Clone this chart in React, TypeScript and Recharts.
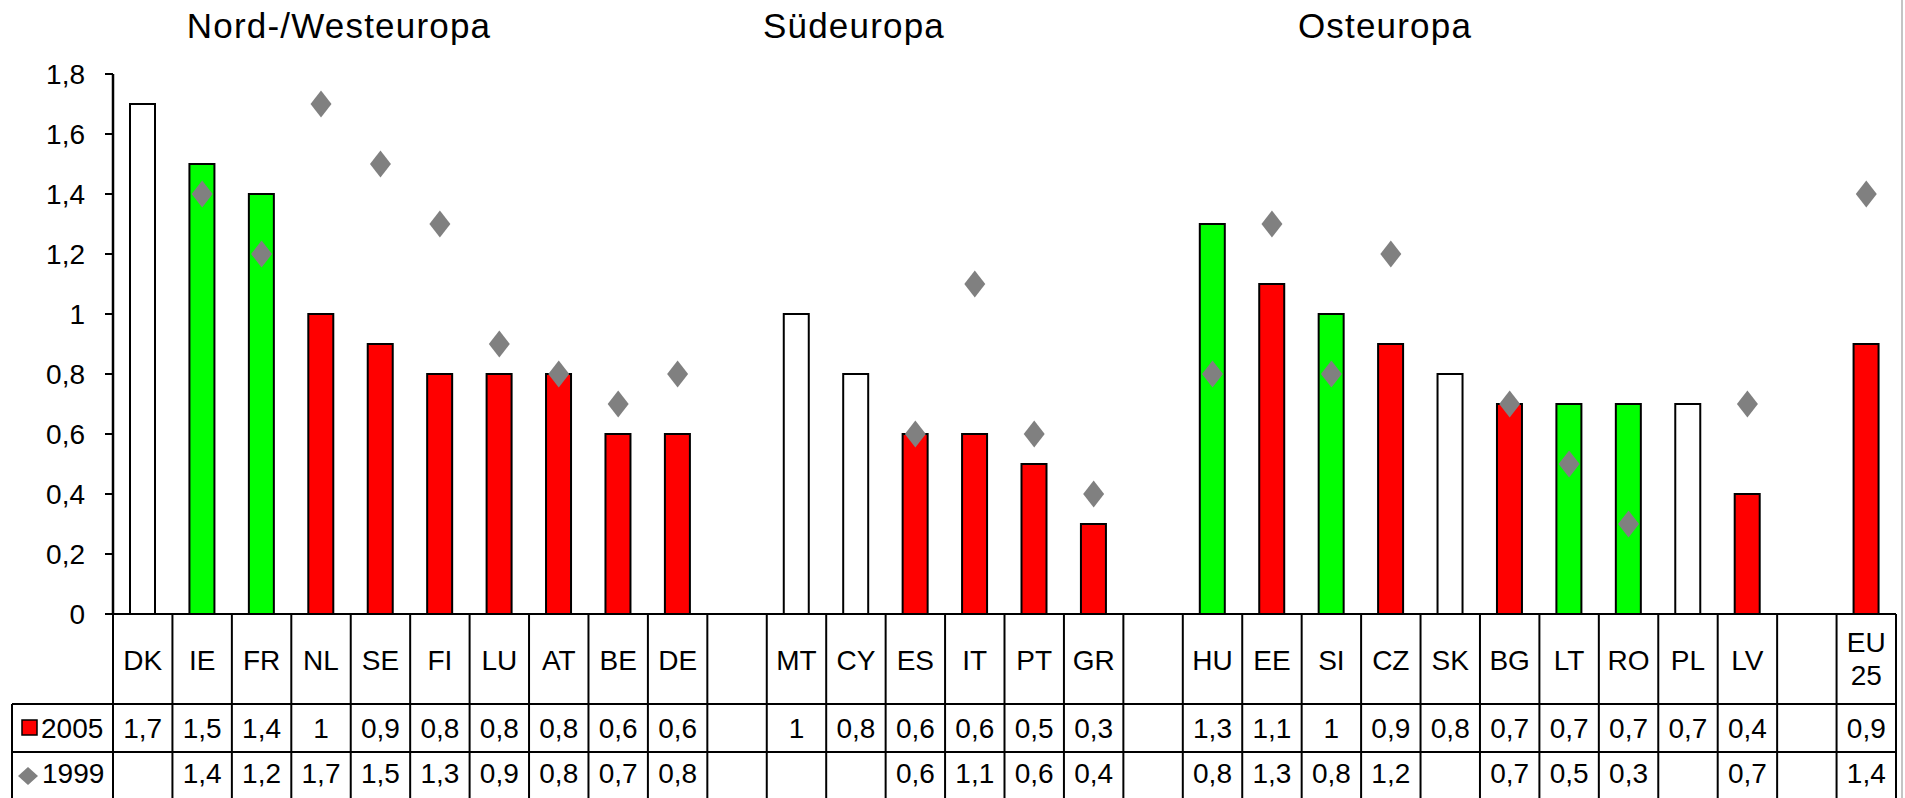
import { Bar, Cell, ComposedChart, Scatter, XAxis, YAxis } from 'recharts';

document.body.style.margin = '0';

// '' = empty spacer column between the regions
const CATEGORIES = [
  'DK', 'IE', 'FR', 'NL', 'SE', 'FI', 'LU', 'AT', 'BE', 'DE', '',
  'MT', 'CY', 'ES', 'IT', 'PT', 'GR', '',
  'HU', 'EE', 'SI', 'CZ', 'SK', 'BG', 'LT', 'RO', 'PL', 'LV', '',
  'EU\n25',
];

const VALUES_2005 = [
  1.7, 1.5, 1.4, 1, 0.9, 0.8, 0.8, 0.8, 0.6, 0.6, null,
  1, 0.8, 0.6, 0.6, 0.5, 0.3, null,
  1.3, 1.1, 1, 0.9, 0.8, 0.7, 0.7, 0.7, 0.7, 0.4, null,
  0.9,
];

const VALUES_1999 = [
  null, 1.4, 1.2, 1.7, 1.5, 1.3, 0.9, 0.8, 0.7, 0.8, null,
  null, null, 0.6, 1.1, 0.6, 0.4, null,
  0.8, 1.3, 0.8, 1.2, null, 0.7, 0.5, 0.3, null, 0.7, null,
  1.4,
];

// n = no 1999 value, g = improved, r = worse
const TREND = [
  'n', 'g', 'g', 'r', 'r', 'r', 'r', 'r', 'r', 'r', '',
  'n', 'n', 'r', 'r', 'r', 'r', '',
  'g', 'r', 'g', 'r', 'n', 'r', 'g', 'g', 'n', 'r', '',
  'r',
];

const Y_TICKS = [0, 0.2, 0.4, 0.6, 0.8, 1, 1.2, 1.4, 1.6, 1.8];

const REGIONS = ['Nord-/Westeuropa', 'Südeuropa', 'Osteuropa'];

const FILLS: Record<string, string> = { n: '#ffffff', g: '#00ff00', r: '#ff0000' };
const FONT = '"Liberation Sans", Arial, sans-serif';

const data = CATEGORIES.map((c, i) => ({
  key: c || `gap${i}`,
  label: c,
  v2005: VALUES_2005[i],
  v1999: VALUES_1999[i],
  trend: TREND[i],
}));

const fmt = (v: number | null) => (v == null ? '' : String(v).replace('.', ','));

function Diamond(props: any) {
  const { cx, cy, payload } = props;
  if (payload?.v1999 == null || !Number.isFinite(cx) || !Number.isFinite(cy)) return <g />;
  const w = 10.5;
  const h = 13.5;
  return (
    <polygon
      points={`${cx},${cy - h} ${cx + w},${cy} ${cx},${cy + h} ${cx - w},${cy}`}
      fill="#808080"
    />
  );
}

// draws the data table under the axis, one column per tick
function TableTick(props: any) {
  const { x, y, payload, width } = props;
  const i = payload?.index ?? props.index ?? 0;
  const n = CATEGORIES.length;
  const colW = (width || 1783) / n;
  const left = x - colW / 2;
  const right = x + colW / 2;
  const r1 = y + 90;
  const r2 = y + 138;
  const bottom = y + 190;
  const lines = CATEGORIES[i].split('\n');
  const txt = { fontFamily: FONT, fontSize: 28, fill: '#000', textAnchor: 'middle' as const };

  return (
    <g>
      <line x1={left} y1={y} x2={left} y2={bottom} stroke="#000" strokeWidth={2} />
      {i === n - 1 && <line x1={right} y1={y} x2={right} y2={bottom} stroke="#000" strokeWidth={2} />}
      <line x1={left} y1={r1} x2={right} y2={r1} stroke="#000" strokeWidth={2} />
      <line x1={left} y1={r2} x2={right} y2={r2} stroke="#000" strokeWidth={2} />
      {lines.length === 1 ? (
        <text x={x} y={y + 56} {...txt}>{lines[0]}</text>
      ) : (
        <>
          <text x={x} y={y + 38} {...txt}>{lines[0]}</text>
          <text x={x} y={y + 71} {...txt}>{lines[1]}</text>
        </>
      )}
      <text x={x} y={r1 + 34} {...txt}>{fmt(VALUES_2005[i])}</text>
      <text x={x} y={r2 + 31} {...txt}>{fmt(VALUES_1999[i])}</text>
      {i === 0 && (
        <g>
          <line x1={12} y1={r1} x2={left} y2={r1} stroke="#000" strokeWidth={2} />
          <line x1={12} y1={r2} x2={left} y2={r2} stroke="#000" strokeWidth={2} />
          <line x1={12} y1={r1} x2={12} y2={bottom} stroke="#000" strokeWidth={2} />
          <rect x={22} y={r1 + 16} width={15} height={15} fill="#ff0000" stroke="#000" strokeWidth={1.5} />
          <text x={41} y={r1 + 34} fontFamily={FONT} fontSize={28} fill="#000">2005</text>
          <polygon
            points={`28,${r2 + 15} 38,${r2 + 24} 28,${r2 + 33} 18,${r2 + 24}`}
            fill="#808080"
          />
          <text x={42} y={r2 + 31} fontFamily={FONT} fontSize={28} fill="#000">1999</text>
        </g>
      )}
    </g>
  );
}

const TITLE_X = [339, 854, 1385];

export default function App() {
  return (
    <div style={{ position: 'relative', width: 1905, height: 798, background: '#fff', overflow: 'hidden' }}>
      <ComposedChart
        width={1905}
        height={800}
        data={data}
        margin={{ top: 74, right: 9, bottom: 0, left: 0 }}
        barCategoryGap={0}
      >
        <XAxis
          dataKey="key"
          interval={0}
          height={186}
          tickSize={0}
          tickMargin={0}
          tickLine={false}
          axisLine={{ stroke: '#000', strokeWidth: 2 }}
          tick={<TableTick />}
        />
        <YAxis
          domain={[0, 1.8]}
          ticks={Y_TICKS}
          width={113}
          tickSize={8}
          tickMargin={20}
          tickFormatter={(v: number) => fmt(v)}
          axisLine={{ stroke: '#000', strokeWidth: 2.5 }}
          tickLine={{ stroke: '#000', strokeWidth: 2 }}
          tick={{ fontFamily: FONT, fontSize: 28, fill: '#000' }}
        />
        <Bar dataKey="v2005" barSize={25} stroke="#000" strokeWidth={2} isAnimationActive={false}>
          {data.map((d) => (
            <Cell key={d.key} fill={FILLS[d.trend] || 'none'} />
          ))}
        </Bar>
        <Scatter dataKey="v1999" shape={<Diamond />} isAnimationActive={false} />
      </ComposedChart>
      <svg width={1905} height={798} style={{ position: 'absolute', left: 0, top: 0, pointerEvents: 'none' }}>
        {REGIONS.map((r, i) => (
          <text key={r} x={TITLE_X[i]} y={38} textAnchor="middle" fontFamily={FONT} fontSize={35} letterSpacing={1.2} fill="#000">
            {r}
          </text>
        ))}
        <line x1={1902} y1={0} x2={1902} y2={798} stroke="#b0b0b0" strokeWidth={1.5} />
      </svg>
    </div>
  );
}
